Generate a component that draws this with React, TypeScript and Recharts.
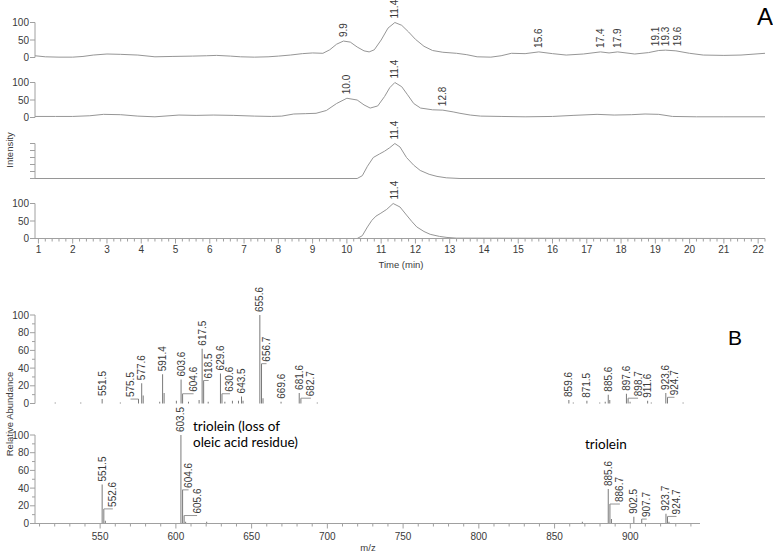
import React from "react";
import { ComposedChart, Line, Bar, Scatter, XAxis, YAxis, LabelList } from "recharts";

const FONT = "'Liberation Sans', Arial, sans-serif";
const TRACE = "#969696";
const AXIS = "#a0a0a0";
const TEXT = "#3a3a3a";

// ---------- Panel A: chromatograms (time in min, intensity in %) ----------
const c1Time = [0.9, 1.2, 1.6, 2.0, 2.3, 2.6, 3.0, 3.4, 3.9, 4.4, 4.9, 5.5, 5.9, 6.2, 6.6, 6.9, 7.3, 7.7, 8.0, 8.35, 8.7, 9.0, 9.3, 9.5, 9.7, 9.9, 10.1, 10.3, 10.5, 10.65, 10.8, 11.0, 11.2, 11.4, 11.6, 11.8, 12.0, 12.25, 12.5, 12.8, 13.2, 13.5, 13.8, 14.2, 14.5, 14.8, 15.2, 15.6, 16.0, 16.4, 16.9, 17.4, 17.65, 17.9, 18.4, 18.8, 19.1, 19.3, 19.6, 20.0, 20.4, 21.0, 21.5, 22.2];
const c1Int = [5, 2, 1, 1, 3, 7, 10, 9, 7, 2, 3, 4, 5, 6, 4, 2, 1, 2, 4, 7, 11, 13, 12, 22, 38, 47, 44, 30, 19, 16, 22, 50, 84, 100, 92, 73, 52, 32, 20, 15, 12, 8, 2, 1, 5, 12, 11, 16, 11, 7, 10, 16, 13, 16, 10, 14, 20, 21, 19, 12, 7, 6, 7, 12];
const c1Peaks = [
  { t: 9.9, v: 47, label: "9.9" },
  { t: 11.4, v: 100, label: "11.4" },
  { t: 15.6, v: 16, label: "15.6" },
  { t: 17.4, v: 16, label: "17.4" },
  { t: 17.9, v: 16, label: "17.9" },
  { t: 19.0, v: 21, label: "19.1" },
  { t: 19.3, v: 21, label: "19.3" },
  { t: 19.65, v: 21, label: "19.6" },
];

const c2Time = [0.9, 1.5, 2.0, 2.5, 2.9, 3.4, 3.9, 4.4, 5.1, 5.6, 6.1, 6.7, 7.3, 7.8, 8.1, 8.45, 8.8, 9.1, 9.4, 9.7, 10.0, 10.3, 10.5, 10.68, 10.9, 11.1, 11.25, 11.4, 11.6, 11.77, 11.95, 12.15, 12.5, 12.8, 13.1, 13.3, 13.6, 13.9, 14.5, 15.2, 16.0, 16.6, 17.3, 17.8, 18.3, 18.7, 19.1, 19.5, 20.2, 21.0, 22.2];
const c2Int = [3, 3, 3, 5, 9, 8, 4, 2, 7, 6, 7, 6, 4, 3, 4, 10, 11, 12, 20, 40, 55, 50, 36, 27, 33, 60, 85, 100, 88, 65, 40, 27, 22, 21, 16, 12, 7, 4, 3, 2, 3, 6, 9, 7, 8, 10, 9, 3, 2, 2, 2];
const c2Peaks = [
  { t: 10.0, v: 55, label: "10.0" },
  { t: 11.4, v: 100, label: "11.4" },
  { t: 12.8, v: 21, label: "12.8" },
];

const c3Time = [0.9, 10.3, 10.45, 10.6, 10.77, 10.95, 11.1, 11.25, 11.4, 11.55, 11.74, 11.95, 12.14, 12.4, 12.63, 12.9, 13.3, 22.2];
const c3Int = [0, 0, 8, 35, 60, 70, 78, 88, 100, 90, 60, 38, 23, 12, 6, 2, 0, 0];
const c3Peaks = [{ t: 11.4, v: 100, label: "11.4" }];

const c4Time = [0.9, 10.3, 10.45, 10.6, 10.73, 10.85, 10.97, 11.16, 11.35, 11.55, 11.74, 11.9, 12.04, 12.25, 12.43, 12.7, 12.92, 13.2, 22.2];
const c4Int = [0, 0, 8, 33, 52, 64, 71, 83, 100, 90, 67, 48, 33, 20, 12, 6, 3, 1, 0];
const c4Peaks = [{ t: 11.4, v: 100, label: "11.4" }];

// ---------- Panel B: mass spectra (m/z, relative abundance) ----------
const s1Mz = [520.5, 537.4, 551.5, 563.5, 575.5, 577.6, 578.6, 589.5, 591.4, 592.4, 600.5, 603.6, 604.6, 608.5, 615.5, 617.5, 618.5, 621.5, 629.6, 630.6, 632.5, 637.5, 641.5, 643.5, 644.5, 655.6, 656.7, 657.7, 669.6, 681.6, 682.7, 693.5, 859.6, 862.5, 871.5, 880.0, 883.6, 885.6, 886.6, 897.6, 898.7, 900.0, 911.6, 914.0, 923.6, 924.7, 935.0];
const s1Ab = [1, 1, 5, 1, 5, 23, 9, 2, 33, 12, 3, 27, 11, 2, 4, 62, 26, 2, 34, 11, 2, 3, 3, 8, 3, 100, 45, 6, 2, 12, 6, 1, 4, 1, 3, 1, 2, 10, 4, 11, 6, 2, 3, 1, 12, 7, 1];
const s1Lab = ["", "", "551.5", "", "575.5", "577.6", "", "", "591.4", "", "", "603.6", "604.6", "", "", "617.5", "618.5", "", "629.6", "630.6", "", "", "", "643.5", "", "655.6", "656.7", "", "669.6", "681.6", "682.7", "", "859.6", "", "871.5", "", "", "885.6", "", "897.6", "898.7", "", "911.6", "", "923.6", "924.7", ""];

const s2Mz = [551.5, 552.6, 553.6, 603.5, 604.6, 605.6, 606.6, 620.5, 868.5, 885.6, 886.7, 887.7, 902.5, 907.7, 923.7, 924.7, 925.7];
const s2Ab = [44, 16.5, 3, 100, 38, 9, 2, 2, 2, 39, 22, 5, 7.5, 5, 11, 8, 2];
const s2Lab = ["551.5", "552.6", "", "603.5", "604.6", "605.6", "", "", "", "885.6", "886.7", "", "902.5", "907.7", "923.7", "924.7", ""];

// label offsets (px) for labels pulled aside with a leader line
const s1Nudge: Record<string, number> = { "575.5": -8, "604.6": 11, "618.5": 5, "630.6": 8, "656.7": 5, "682.7": 10, "898.7": 10, "924.7": 7 };
const s2Nudge: Record<string, number> = { "552.6": 9, "604.6": 6, "605.6": 13, "886.7": 10, "907.7": 5, "924.7": 9 };

const timeTicks = Array.from({ length: 107 }, (_, i) => (10 + i * 2) / 10);
const mzTicks = Array.from({ length: 44 }, (_, i) => 510 + i * 10);

const zip = (t: number[], v: number[]) => t.map((x, i) => ({ t: x, v: v[i] }));
const spec = (mz: number[], ab: number[], lab: string[]) =>
  mz.map((m, i) => ({ mz: m, ab: ab[i], label: lab[i] }));

const PeakText = ({ x, y, text }: { x: number; y: number; text: string }) => (
  <text
    x={x}
    y={y}
    transform={`rotate(-90 ${x} ${y})`}
    fontSize={10}
    fontFamily={FONT}
    fill={TEXT}
    dominantBaseline="central"
  >
    {text}
  </text>
);

const PeakMark = (props: any) => {
  const { cx, cy, payload } = props;
  return <PeakText x={cx} y={cy - 4} text={payload.label} />;
};

const makeYTick = (labelled: number[], showLabels: boolean) => (props: any) => {
  const { x, y, payload } = props;
  const major = labelled.includes(payload.value);
  const len = major ? 5 : 3;
  return (
    <g>
      <line x1={x - len} x2={x} y1={y} y2={y} stroke={AXIS} />
      {showLabels && major && (
        <text x={x - 6} y={y} textAnchor="end" dominantBaseline="central" fontSize={10} fontFamily={FONT} fill={TEXT}>
          {payload.value}
        </text>
      )}
    </g>
  );
};

const TimeTick = (props: any) => {
  const { x, y, payload } = props;
  const major = Number.isInteger(payload.value);
  return (
    <g>
      <line x1={x} x2={x} y1={y} y2={y + (major ? 5 : 3)} stroke={AXIS} />
      {major && (
        <text x={x} y={y + 11} textAnchor="middle" dominantBaseline="central" fontSize={10} fontFamily={FONT} fill={TEXT}>
          {payload.value}
        </text>
      )}
    </g>
  );
};

const MzTick = (props: any) => {
  const { x, y, payload } = props;
  const major = payload.value % 50 === 0;
  return (
    <g>
      <line x1={x} x2={x} y1={y} y2={y + (major ? 5 : 3)} stroke={AXIS} />
      {major && (
        <text x={x} y={y + 13} textAnchor="middle" dominantBaseline="central" fontSize={10} fontFamily={FONT} fill={TEXT}>
          {payload.value}
        </text>
      )}
    </g>
  );
};

const makeSpecLabel = (nudge: Record<string, number>) => (props: any) => {
  const { x, y, width, value } = props;
  if (!value) return null;
  const px = Number(x) + Number(width) / 2;
  const py = Number(y);
  const n = nudge[value] ?? 0;
  if (n === 0) return <PeakText x={px} y={py - 3} text={value} />;
  return (
    <g>
      <line x1={px} x2={px + n} y1={py} y2={py} stroke={TRACE} />
      <PeakText x={px + n} y={py - 2} text={value} />
    </g>
  );
};

type ChromProps = {
  time: number[];
  int: number[];
  peaks: { t: number; v: number; label: string }[];
  top: number;
  kind: "plain" | "ticksOnly" | "bottom";
};

const Chromatogram = ({ time, int, peaks, top, kind }: ChromProps) => {
  const bottom = kind === "bottom";
  const height = bottom ? 89.5 : 65;
  return (
    <div style={{ position: "absolute", left: 0, top }}>
      <ComposedChart width={773} height={height} data={zip(time, int)} margin={{ top: 22.5, right: 8, bottom: bottom ? 0 : 7.5, left: 0 }}>
        <XAxis
          type="number"
          dataKey="t"
          domain={[0.9, 22.2]}
          ticks={bottom ? timeTicks : []}
          interval={0}
          height={bottom ? 32 : 0}
          tickLine={false}
          tickSize={0}
          tickMargin={0}
          tick={bottom ? TimeTick : false}
          axisLine={{ stroke: AXIS, strokeWidth: kind === "ticksOnly" ? 2 : 1 }}
        />
        <YAxis
          type="number"
          domain={[0, 100]}
          ticks={kind === "ticksOnly" ? [0, 20, 40, 60, 80, 100] : [0, 50, 100]}
          interval={0}
          width={35}
          tickLine={false}
          tickSize={0}
          tickMargin={0}
          axisLine={{ stroke: AXIS }}
          tick={makeYTick(kind === "ticksOnly" ? [0, 20, 40, 60, 80, 100] : [0, 50, 100], kind !== "ticksOnly")}
        />
        <Line type="linear" dataKey="v" stroke={TRACE} strokeWidth={1} dot={false} isAnimationActive={false} />
        <Scatter data={peaks} dataKey="v" shape={PeakMark} isAnimationActive={false} />
      </ComposedChart>
    </div>
  );
};

type SpecProps = {
  data: { mz: number; ab: number; label: string }[];
  nudge: Record<string, number>;
  top: number;
  marginTop: number;
  withAxis: boolean;
};

const Spectrum = ({ data, nudge, top, marginTop, withAxis }: SpecProps) => (
  <div style={{ position: "absolute", left: 0, top }}>
    <ComposedChart
      width={773}
      height={marginTop + 88.5 + (withAxis ? 29 : 9)}
      data={data}
      margin={{ top: marginTop, right: 73, bottom: withAxis ? 0 : 9, left: 0 }}
    >
      <XAxis
        type="number"
        dataKey="mz"
        domain={[507, 946]}
        ticks={withAxis ? mzTicks : []}
        interval={0}
        height={withAxis ? 29 : 0}
        tickLine={false}
        tickSize={0}
        tickMargin={0}
        tick={withAxis ? MzTick : false}
        axisLine={{ stroke: AXIS }}
      />
      <YAxis
        type="number"
        domain={[0, 100]}
        ticks={[0, 10, 20, 30, 40, 50, 60, 70, 80, 90, 100]}
        interval={0}
        width={35}
        tickLine={false}
        tickSize={0}
        tickMargin={0}
        axisLine={{ stroke: AXIS }}
        tick={makeYTick([0, 20, 40, 60, 80, 100], true)}
      />
      <Bar dataKey="ab" barSize={1} fill="#7a7a7a" isAnimationActive={false}>
        <LabelList dataKey="label" content={makeSpecLabel(nudge)} />
      </Bar>
    </ComposedChart>
  </div>
);

const App: React.FC = () => (
  <div style={{ position: "absolute", left: 0, top: 0, width: 773, height: 553, background: "#fff", fontFamily: FONT }}>
    <Chromatogram time={c1Time} int={c1Int} peaks={c1Peaks} top={0} kind="plain" />
    <Chromatogram time={c2Time} int={c2Int} peaks={c2Peaks} top={60} kind="plain" />
    <Chromatogram time={c3Time} int={c3Int} peaks={c3Peaks} top={120.5} kind="ticksOnly" />
    <Chromatogram time={c4Time} int={c4Int} peaks={c4Peaks} top={181} kind="bottom" />
    <Spectrum data={spec(s1Mz, s1Ab, s1Lab)} nudge={s1Nudge} top={280} marginTop={35} withAxis={false} />
    <Spectrum data={spec(s2Mz, s2Ab, s2Lab)} nudge={s2Nudge} top={405} marginTop={30} withAxis={true} />
    <svg width={773} height={553} style={{ position: "absolute", left: 0, top: 0, pointerEvents: "none" }}>
      <text x={757} y={25} fontSize={24} fontFamily={FONT} fill="#000">A</text>
      <text x={728} y={345} fontSize={21} fontFamily={FONT} fill="#000">B</text>
      <text x={9} y={150} transform="rotate(-90 9 150)" textAnchor="middle" dominantBaseline="central" fontSize={9.5} fontFamily={FONT} fill={TEXT}>
        Intensity
      </text>
      <text x={9} y={414} transform="rotate(-90 9 414)" textAnchor="middle" dominantBaseline="central" fontSize={9.5} fontFamily={FONT} fill={TEXT}>
        Relative Abundance
      </text>
      <text x={401} y={268} textAnchor="middle" fontSize={9.5} fontFamily={FONT} fill={TEXT}>Time (min)</text>
      <text x={368} y={551} textAnchor="middle" fontSize={9.5} fontFamily={FONT} fill={TEXT}>m/z</text>
      <text x={193} y={431} fontSize={13.5} fontFamily="Lato, 'Open Sans', sans-serif" fill="#000">triolein (loss of</text>
      <text x={193} y={447} fontSize={13.5} fontFamily="Lato, 'Open Sans', sans-serif" fill="#000">oleic acid residue)</text>
      <text x={585} y={449} fontSize={13.5} fontFamily="Lato, 'Open Sans', sans-serif" fill="#000">triolein</text>
    </svg>
  </div>
);

export default App;
